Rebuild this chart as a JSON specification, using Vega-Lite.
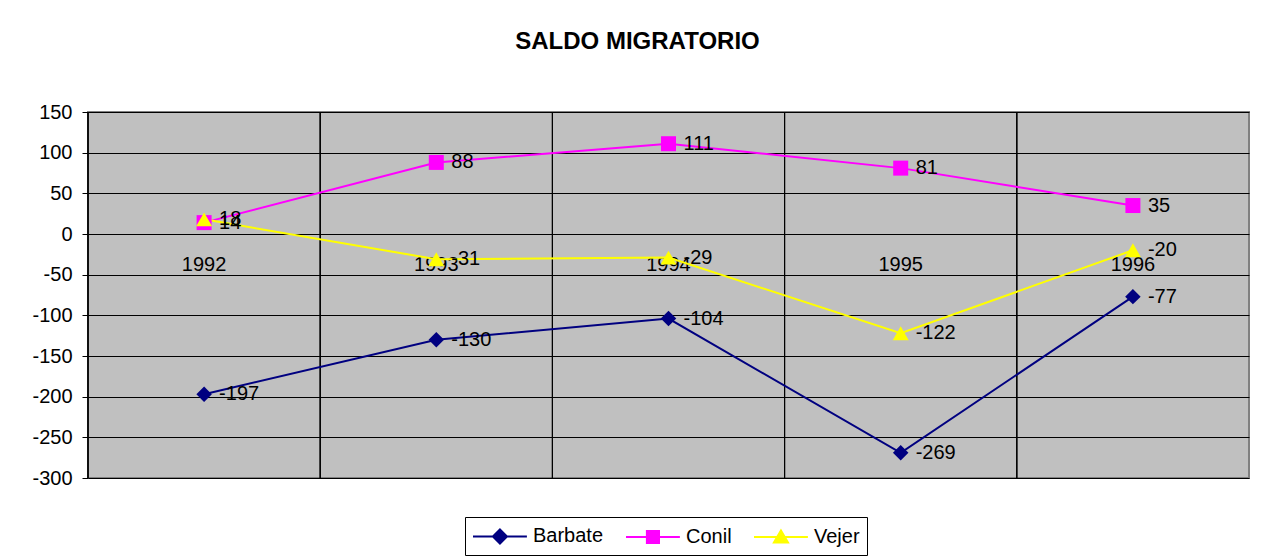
{
  "$schema": "https://vega.github.io/schema/vega-lite/v6.json",
  "width": 1161,
  "height": 366,
  "autosize": {"type": "none"},
  "padding": {"left": 88, "top": 112, "right": 22, "bottom": 80},
  "background": "white",
  "title": {"text": "SALDO MIGRATORIO", "font": "Liberation Sans", "fontSize": 24, "fontWeight": "bold", "anchor": "middle", "frame": "group", "dx": -31, "offset": 48, "color": "black"},
  "config": {
    "font": "Liberation Sans",
    "locale": {"number": {"decimal": ".", "thousands": ",", "grouping": [3], "currency": ["$", ""], "minus": "-"}},
    "view": {"fill": "#C0C0C0", "stroke": "#808080", "strokeWidth": 2}
  },
  "data": {
    "values": [
      {"year": "1992", "series": "Barbate", "value": -197},
      {"year": "1993", "series": "Barbate", "value": -130},
      {"year": "1994", "series": "Barbate", "value": -104},
      {"year": "1995", "series": "Barbate", "value": -269},
      {"year": "1996", "series": "Barbate", "value": -77},
      {"year": "1992", "series": "Conil", "value": 14},
      {"year": "1993", "series": "Conil", "value": 88},
      {"year": "1994", "series": "Conil", "value": 111},
      {"year": "1995", "series": "Conil", "value": 81},
      {"year": "1996", "series": "Conil", "value": 35},
      {"year": "1992", "series": "Vejer", "value": 18},
      {"year": "1993", "series": "Vejer", "value": -31},
      {"year": "1994", "series": "Vejer", "value": -29},
      {"year": "1995", "series": "Vejer", "value": -122},
      {"year": "1996", "series": "Vejer", "value": -20}
    ]
  },
  "encoding": {
    "x": {
      "field": "year", "type": "ordinal",
      "scale": {"type": "band", "paddingInner": 0, "paddingOuter": 0},
      "axis": {"title": null, "offset": -244, "domain": false, "ticks": false, "grid": false, "labelPadding": 20, "labelFontSize": 20, "labelColor": "black", "labelAngle": 0, "labelFont": "Liberation Sans"}
    },
    "y": {
      "field": "value", "type": "quantitative",
      "scale": {"domain": [-300, 150], "nice": false, "zero": false},
      "axis": {"title": null, "values": [-300, -250, -200, -150, -100, -50, 0, 50, 100, 150], "grid": true, "gridColor": "black", "gridOpacity": 1, "gridWidth": 1, "domain": false, "tickColor": "black", "tickSize": 6, "labelPadding": 10, "labelFontSize": 20, "labelColor": "black", "labelFont": "Liberation Sans"}
    }
  },
  "layer": [
    {
      "mark": {"type": "rule", "color": "black", "strokeWidth": 1},
      "encoding": {"x": {"field": "year", "type": "ordinal", "bandPosition": 0}, "y": null}
    },
    {
      "transform": [{"filter": "datum.series === 'Barbate'"}],
      "mark": {"type": "line", "strokeWidth": 2, "color": "#000080"},
      "encoding": {}
    },
    {
      "transform": [{"filter": "datum.series === 'Conil'"}],
      "mark": {"type": "line", "strokeWidth": 2, "color": "#FF00FF"},
      "encoding": {}
    },
    {
      "transform": [{"filter": "datum.series === 'Vejer'"}],
      "mark": {"type": "line", "strokeWidth": 2, "color": "#FFFF00"},
      "encoding": {}
    },
    {
      "transform": [{"filter": "datum.series === 'Barbate'"}],
      "mark": {"type": "point", "shape": "diamond", "filled": true, "color": "#000080", "opacity": 1, "size": 240},
      "encoding": {}
    },
    {
      "transform": [{"filter": "datum.series === 'Conil'"}],
      "mark": {"type": "point", "shape": "square", "filled": true, "color": "#FF00FF", "opacity": 1, "size": 225},
      "encoding": {}
    },
    {
      "transform": [{"filter": "datum.series === 'Vejer'"}],
      "mark": {"type": "point", "shape": "triangle-up", "filled": true, "color": "#FFFF00", "opacity": 1, "size": 256},
      "encoding": {}
    },
    {
      "mark": {"type": "text", "align": "left", "baseline": "middle", "dx": 15, "fontSize": 20, "color": "black", "font": "Liberation Sans"},
      "encoding": {
        "text": {"field": "value", "type": "quantitative"}
      }
    },
    {
      "mark": {"type": "point", "opacity": 0, "strokeWidth": 2, "filled": true},
      "encoding": {
        "shape": {"field": "series", "type": "nominal", "scale": {"domain": ["Barbate", "Conil", "Vejer"], "range": ["M-1,0H3.9M1.45,-0.64L2.09,0L1.45,0.64L0.81,0Z", "M-1,0H3.9M0.9,-0.55H2V0.55H0.9Z", "M-1,0H3.9M1.45,-0.6L2.09,0.5H0.81Z"]},
          "legend": {"title": null, "orient": "none", "legendX": 377, "legendY": 405, "direction": "horizontal", "columns": 3, "symbolSize": 484, "symbolStrokeWidth": 2, "symbolOpacity": 1, "labelFontSize": 20, "labelColor": "black", "labelFont": "Liberation Sans", "labelOffset": 37, "columnPadding": 18, "padding": 7, "strokeColor": "black", "fillColor": "white",
            "encode": {"symbols": {"update": {"opacity": {"value": 1}, "fillOpacity": {"value": 1}, "strokeOpacity": {"value": 1}}}}}},
        "fill": {"field": "series", "type": "nominal", "scale": {"domain": ["Barbate", "Conil", "Vejer"], "range": ["#000080", "#FF00FF", "#FFFF00"]}},
        "stroke": {"field": "series", "type": "nominal", "scale": {"domain": ["Barbate", "Conil", "Vejer"], "range": ["#000080", "#FF00FF", "#FFFF00"]}}
      }
    }
  ]
}
